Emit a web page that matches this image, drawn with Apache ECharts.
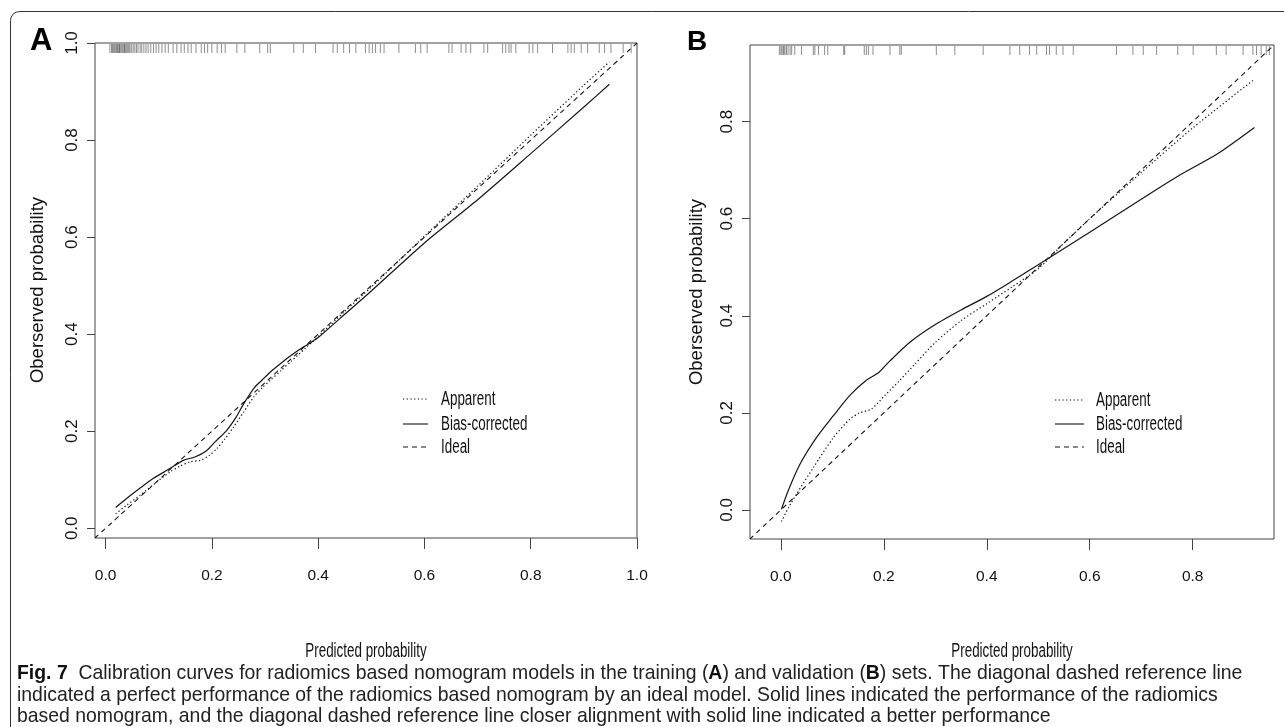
<!DOCTYPE html>
<html>
<head>
<meta charset="utf-8">
<script src="https://cdn.jsdelivr.net/npm/echarts@6/dist/echarts.min.js"></script>
<style>
html,body{margin:0;padding:0;background:#fff;}
#chart{width:1284px;height:727px;}
</style>
</head>
<body>
<div id="chart"></div>
<script>
// ---------------- DATA ----------------
// Panel A (training set)
const apparentAX = [0.019, 0.04, 0.065, 0.09, 0.121, 0.14, 0.159, 0.178, 0.195, 0.209, 0.225, 0.241, 0.26, 0.279, 0.295, 0.31, 0.33, 0.35, 0.375, 0.4, 0.45, 0.5, 0.6, 0.7, 0.8, 0.9, 0.948];
const apparentAY = [0.030, 0.048, 0.068, 0.090, 0.116, 0.128, 0.137, 0.140, 0.150, 0.164, 0.185, 0.209, 0.240, 0.271, 0.290, 0.305, 0.325, 0.345, 0.370, 0.395, 0.447, 0.497, 0.602, 0.705, 0.810, 0.913, 0.961];
const biasAX = [0.019, 0.04, 0.065, 0.09, 0.121, 0.146, 0.168, 0.19, 0.206, 0.228, 0.245, 0.26, 0.28, 0.294, 0.31, 0.33, 0.35, 0.37, 0.385, 0.4, 0.45, 0.5, 0.6, 0.7, 0.8, 0.9, 0.948];
const biasAY = [0.043, 0.062, 0.083, 0.103, 0.123, 0.140, 0.147, 0.160, 0.178, 0.202, 0.228, 0.257, 0.290, 0.305, 0.322, 0.340, 0.357, 0.372, 0.382, 0.393, 0.441, 0.489, 0.588, 0.677, 0.772, 0.868, 0.915];
const idealA = [-0.02, 1.0];
const rugA = [0.008,0.011,0.013,0.015,0.017,0.019,0.021,0.022,0.024,0.026,0.027,0.029,0.031,0.033,0.035,0.036,0.038,0.040,0.042,0.044,0.046,0.049,0.052,0.055,0.058,0.061,0.065,0.068,0.072,0.076,0.080,0.085,0.090,0.095,0.100,0.106,0.112,0.118,0.127,0.134,0.142,0.148,0.155,0.161,0.170,0.180,0.186,0.192,0.200,0.210,0.218,0.225,0.247,0.262,0.290,0.305,0.310,0.354,0.372,0.395,0.428,0.436,0.448,0.459,0.471,0.489,0.496,0.502,0.508,0.517,0.524,0.552,0.583,0.593,0.605,0.646,0.652,0.669,0.678,0.687,0.712,0.719,0.747,0.753,0.759,0.763,0.772,0.797,0.804,0.813,0.841,0.870,0.876,0.882,0.895,0.907,0.929,0.939,0.951,0.974,0.989];
const ticksA = [0.0, 0.2, 0.4, 0.6, 0.8, 1.0];

// Panel B (validation set)
const apparentBX = [0.001, 0.015, 0.03, 0.063, 0.102, 0.134, 0.153, 0.176, 0.202, 0.231, 0.26, 0.3, 0.35, 0.4, 0.45, 0.5, 0.55, 0.6, 0.7, 0.8, 0.917];
const apparentBY = [-0.024, 0.005, 0.032, 0.087, 0.149, 0.187, 0.200, 0.208, 0.236, 0.267, 0.300, 0.345, 0.390, 0.425, 0.460, 0.497, 0.550, 0.600, 0.695, 0.787, 0.885];
const biasBX = [0.001, 0.014, 0.037, 0.069, 0.102, 0.134, 0.166, 0.19, 0.21, 0.25, 0.3, 0.35, 0.4, 0.45, 0.5, 0.6, 0.7, 0.775, 0.85, 0.92];
const biasBY = [0.001, 0.039, 0.094, 0.149, 0.194, 0.236, 0.267, 0.283, 0.305, 0.345, 0.382, 0.412, 0.440, 0.472, 0.505, 0.572, 0.640, 0.690, 0.735, 0.788];
const idealB = [-0.06, 0.958];
const rugB = [-0.003,0.0,0.002,0.0045,0.006,0.008,0.011,0.014,0.018,0.021,0.027,0.040,0.063,0.066,0.073,0.085,0.091,0.122,0.124,0.162,0.166,0.170,0.179,0.212,0.231,0.234,0.302,0.338,0.393,0.445,0.464,0.483,0.497,0.516,0.522,0.535,0.548,0.568,0.652,0.684,0.704,0.730,0.771,0.801,0.846,0.865,0.898,0.917,0.924,0.933,0.943,0.949];
const ticksB = [0.0, 0.2, 0.4, 0.6, 0.8];

const legendNames = ['Apparent', 'Bias-corrected', 'Ideal'];
const panelLetters = ['A', 'B'];
const xTitle = 'Predicted probability';
const yTitle = 'Oberserved probability';
const captionLines = [
  '{b|Fig. 7}  Calibration curves for radiomics based nomogram models in the training ({b|A}) and validation ({b|B}) sets. The diagonal dashed reference line',
  'indicated a perfect performance of the radiomics based nomogram by an ideal model. Solid lines indicated the performance of the radiomics',
  'based nomogram, and the diagonal dashed reference line closer alignment with solid line indicated a better performance'
];

// ---------------- CHART ----------------
const zip = (xs, ys) => xs.map((x, i) => [x, ys[i]]);
const LINE = '#151515';
const DOT = [1.3, 2.4];
const DASH = [5, 4];
const FONT = 'Liberation Sans';
const SQ = 0.67; // horizontal squeeze of the R plot text

const cctx = document.createElement('canvas').getContext('2d');
cctx.font = '100px "' + FONT + '"';
const plainLine1 = captionLines[0].replace(/\{b\|([^}]*)\}/g, '$1');
const capSize = Math.min(20, 100 * 1222 / cctx.measureText(plainLine1).width);

function xAxisCfg(gi, range, ticks) {
  return {
    gridIndex: gi, type: 'value', min: range[0], max: range[1],
    axisLine: { show: false, onZero: false },
    splitLine: { show: false },
    axisTick: { show: true, length: 11, customValues: ticks, lineStyle: { color: '#444', width: 1 } },
    axisLabel: { customValues: ticks, formatter: v => v.toFixed(1), margin: 30,
      fontFamily: FONT, fontSize: 15.5, color: '#111' }
  };
}
function yAxisCfg(gi, range, ticks) {
  return {
    gridIndex: gi, type: 'value', min: range[0], max: range[1],
    axisLine: { show: false, onZero: false },
    splitLine: { show: false },
    axisTick: { show: true, length: 8, customValues: ticks, lineStyle: { color: '#444', width: 1 } },
    axisLabel: { customValues: ticks, formatter: v => v.toFixed(1), rotate: 90, margin: 14,
      fontFamily: FONT, fontSize: 17, color: '#111' }
  };
}
function rugSeries(gi, vals, top) {
  return {
    type: 'custom', xAxisIndex: gi, yAxisIndex: gi, silent: true, clip: false,
    data: vals.map(v => [v, top]),
    renderItem: (params, api) => {
      const p = api.coord([api.value(0), api.value(1)]);
      return { type: 'line', shape: { x1: p[0], y1: p[1] + 1, x2: p[0], y2: p[1] + 10 },
        style: { stroke: 'rgba(30,30,30,0.5)', lineWidth: 1 } };
    }
  };
}
function lineSeries(gi, name, data, type, width) {
  return {
    type: 'line', name: name, xAxisIndex: gi, yAxisIndex: gi, data: data,
    showSymbol: false, symbol: 'none', smooth: 0.25, silent: true,
    lineStyle: { color: LINE, width: width, type: type }
  };
}

const gridA = { left: 95, top: 43, width: 542, height: 495 };
const gridB = { left: 750, top: 45, width: 524, height: 494 };

function plotText(x, y, text, align, rot) {
  const g = { type: 'text', x: x, y: y, style: { text: text, fill: '#111',
    font: (rot ? '18.5px "' : '20px "') + FONT + '"', align: align, verticalAlign: 'middle' } };
  if (rot) { g.rotation = Math.PI / 2; } else { g.scaleX = SQ; }
  return g;
}
function legendGraphics(x0, x1, tx, ys) {
  const styles = [DOT, 'solid', DASH];
  const out = [];
  ys.forEach((y, i) => {
    out.push({ type: 'line', shape: { x1: x0, y1: y, x2: x1, y2: y },
      style: { stroke: LINE, lineWidth: 1.1, lineDash: styles[i] === 'solid' ? null : styles[i] } });
    out.push(plotText(tx, y, legendNames[i], 'left', false));
  });
  return out;
}

const graphics = [
  { type: 'rect', shape: { x: 10.5, y: 11.5, width: 1300, height: 760, r: 9 },
    style: { fill: 'none', stroke: '#333', lineWidth: 1 }, z: -1 },
  { type: 'text', x: 30, y: 41, style: { text: panelLetters[0], fill: '#000',
    font: 'bold 31px "' + FONT + '"', align: 'left', verticalAlign: 'middle' } },
  { type: 'text', x: 687, y: 42, style: { text: panelLetters[1], fill: '#000',
    font: 'bold 28px "' + FONT + '"', align: 'left', verticalAlign: 'middle' } },
  plotText(38, 290, yTitle, 'center', true),
  plotText(697, 292, yTitle, 'center', true),
  plotText(366, 651, xTitle, 'center', false),
  plotText(1012, 651, xTitle, 'center', false)
].concat(legendGraphics(403, 428, 441, [399, 424, 447]))
 .concat(legendGraphics(1055, 1084, 1096, [400, 424, 447]))
 .concat(captionLines.map((t, i) => ({
   type: 'text', x: 17, y: [674, 696, 717][i],
   style: { text: t, fill: '#222', font: capSize.toFixed(2) + 'px "' + FONT + '"',
     align: 'left', verticalAlign: 'middle',
     rich: { b: { fontWeight: 'bold', fontSize: capSize, fontFamily: FONT, fill: '#111' } } }
 })));

const chart = echarts.init(document.getElementById('chart'), null, { renderer: 'canvas' });
chart.setOption({
  animation: false,
  backgroundColor: '#fff',
  grid: [
    Object.assign({ show: true, borderColor: '#444', borderWidth: 1, backgroundColor: 'transparent' }, gridA),
    Object.assign({ show: true, borderColor: '#444', borderWidth: 1, backgroundColor: 'transparent' }, gridB)
  ],
  xAxis: [xAxisCfg(0, idealA, ticksA), xAxisCfg(1, idealB, ticksB)],
  yAxis: [yAxisCfg(0, idealA, ticksA), yAxisCfg(1, idealB, ticksB)],
  series: [
    lineSeries(0, legendNames[2], [[idealA[0], idealA[0]], [idealA[1], idealA[1]]], DASH, 1.1),
    lineSeries(0, legendNames[0], zip(apparentAX, apparentAY), DOT, 1.2),
    lineSeries(0, legendNames[1], zip(biasAX, biasAY), 'solid', 1.2),
    rugSeries(0, rugA, idealA[1]),
    lineSeries(1, legendNames[2], [[idealB[0], idealB[0]], [idealB[1], idealB[1]]], DASH, 1.1),
    lineSeries(1, legendNames[0], zip(apparentBX, apparentBY), DOT, 1.2),
    lineSeries(1, legendNames[1], zip(biasBX, biasBY), 'solid', 1.2),
    rugSeries(1, rugB, idealB[1])
  ],
  graphic: graphics
});
</script>
</body>
</html>
